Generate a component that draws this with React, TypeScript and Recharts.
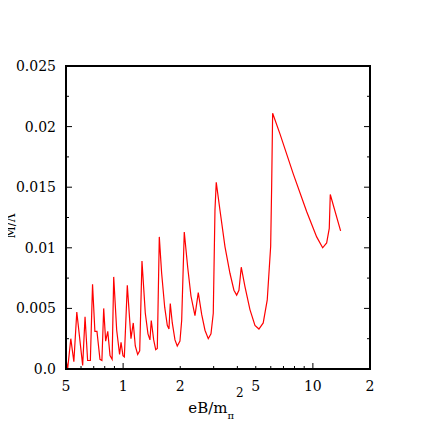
import React from 'react';
import { LineChart, Line, XAxis, YAxis } from 'recharts';

// eB / m_pi^2 (log axis) and M / Lambda^2
const eB = [
  0.5, 0.51, 0.53, 0.55, 0.57, 0.612, 0.63, 0.65, 0.672, 0.69,
  0.71, 0.728, 0.755, 0.773, 0.79, 0.809, 0.83, 0.853, 0.875, 0.892,
  0.925, 0.958, 0.975, 0.998, 1.015, 1.052, 1.1, 1.131, 1.159, 1.193,
  1.223, 1.257, 1.309, 1.352, 1.385, 1.407, 1.449, 1.485, 1.514, 1.551,
  1.596, 1.656, 1.709, 1.744, 1.772, 1.816, 1.876, 1.929, 1.993, 2.035,
  2.1, 2.189, 2.279, 2.391, 2.489, 2.594, 2.7, 2.81, 2.904, 2.986,
  3.048, 3.096, 3.239, 3.441, 3.656, 3.837, 3.966, 4.077, 4.193, 4.386,
  4.66, 4.952, 5.196, 5.474, 5.748, 5.991, 6.063, 6.137, 6.707, 7.881,
  9.27, 10.47, 11.26, 11.82, 12.2, 12.35, 14.0,
];
const mass = [
  0.0008, 0.0, 0.0025, 0.0006, 0.0047, 0.0003, 0.0043, 0.0007, 0.0007, 0.007,
  0.0031, 0.0031, 0.0008, 0.0007, 0.005, 0.0023, 0.0031, 0.0011, 0.0008, 0.0076,
  0.0032, 0.0012, 0.0022, 0.0011, 0.001, 0.0069, 0.0025, 0.0038, 0.0019, 0.0012,
  0.0015, 0.0089, 0.0046, 0.0029, 0.0024, 0.004, 0.0024, 0.0016, 0.0017, 0.0109,
  0.0079, 0.0051, 0.0036, 0.0033, 0.0054, 0.0038, 0.0024, 0.0019, 0.0023, 0.004,
  0.0113, 0.0084, 0.006, 0.0044, 0.0063, 0.0045, 0.0032, 0.0025, 0.0029, 0.0046,
  0.0131, 0.0154, 0.0131, 0.0101, 0.0079, 0.0065, 0.0061, 0.0065, 0.0084, 0.0068,
  0.0049, 0.0036, 0.0033, 0.0038, 0.0057, 0.0101, 0.015, 0.0211, 0.0194, 0.0161,
  0.013, 0.0109, 0.01, 0.0104, 0.0116, 0.0144, 0.0114,
];

// labelled ticks (the exported figure clipped 0.5 -> "5" and 20 -> "2")
const xTicks = [0.5, 1, 2, 5, 10, 20];
const xTickLabels = ['5', '1', '2', '5', '10', '2'];
const xMajor = [1, 10];
const xMinor = [0.6, 0.7, 0.8, 0.9, 2, 3, 4, 5, 6, 7, 8, 9, 20];
const xAll = [0.5, 0.6, 0.7, 0.8, 0.9, 1, 2, 3, 4, 5, 6, 7, 8, 9, 10, 20];

const yTicks = [0, 0.005, 0.01, 0.015, 0.02, 0.025];
const yTickLabels = ['0.0', '0.005', '0.01', '0.015', '0.02', '0.025'];
const yMajor = [0.005, 0.01, 0.015, 0.02];
const yMinor = [0.0025, 0.0075, 0.0125, 0.0175, 0.0225];
const yAll = [0, 0.0025, 0.005, 0.0075, 0.01, 0.0125, 0.015, 0.0175, 0.02, 0.0225, 0.025];

const data = eB.map((x, i) => ({ x, m: mass[i] }));

const font = 'DejaVu Serif';
const xDomain = [0.5, 20];
const yDomain = [0, 0.025];
const frame = { stroke: '#000', strokeWidth: 2, strokeLinecap: 'square' as const };

const xLen = (v: number) => (xMajor.includes(v) ? 6 : xMinor.includes(v) ? 3 : 0);
const yLen = (v: number) => (yMajor.includes(v) ? 6 : yMinor.includes(v) ? 3 : 0);

// gnuplot-like: ticks point into the plot, labels outside
const BottomTick = (props: any) => {
  const { x, y, payload } = props;
  const v = payload.value;
  const li = xTicks.indexOf(v);
  const len = xLen(v);
  return (
    <g>
      {len > 0 && <line x1={x} x2={x} y1={y} y2={y - len} stroke="#000" />}
      {li >= 0 && (
        <text x={x} y={y + 22} textAnchor="middle" fontFamily={font} fontSize={14} fill="#000">
          {xTickLabels[li]}
        </text>
      )}
    </g>
  );
};

const TopTick = (props: any) => {
  const { x, y, payload } = props;
  const len = xLen(payload.value);
  return len > 0 ? <line x1={x} x2={x} y1={y} y2={y + len} stroke="#000" /> : <g />;
};

const LeftTick = (props: any) => {
  const { x, y, payload } = props;
  const v = payload.value;
  const li = yTicks.indexOf(v);
  const len = yLen(v);
  return (
    <g>
      {len > 0 && <line x1={x} x2={x + len} y1={y} y2={y} stroke="#000" />}
      {li >= 0 && (
        <text x={x - 10} y={y + 5} textAnchor="end" fontFamily={font} fontSize={14} fill="#000">
          {yTickLabels[li]}
        </text>
      )}
    </g>
  );
};

const RightTick = (props: any) => {
  const { x, y, payload } = props;
  const len = yLen(payload.value);
  return len > 0 ? <line x1={x} x2={x - len} y1={y} y2={y} stroke="#000" /> : <g />;
};

const XLabel = () => (
  <text x={216} y={413} textAnchor="middle" fontFamily={font} fontSize={15} fill="#000">
    eB/m
    <tspan fontSize={10} dy={6}>π</tspan>
    <tspan fontSize={12} dx={2} dy={-22}>2</tspan>
  </text>
);

const YLabel = () => (
  <g transform="translate(15, 226) rotate(-90)">
    <text x={0} y={0} textAnchor="middle" fontFamily={font} fontSize={12} fill="#000">
      M/Λ
    </text>
    <text x={19} y={-8} textAnchor="middle" fontFamily={font} fontSize={9} fill="#000">
      2
    </text>
  </g>
);

export default function App() {
  return (
    <div style={{ margin: -8, width: 436, height: 436, background: '#fff' }}>
      <LineChart
        width={436}
        height={436}
        data={data}
        margin={{ top: 66, right: 66, bottom: 27, left: 0 }}
      >
        <XAxis
          xAxisId="main"
          dataKey="x"
          type="number"
          scale="log"
          domain={xDomain}
          allowDataOverflow
          ticks={xAll}
          interval={0}
          tick={BottomTick}
          tickSize={0}
          tickMargin={0}
          tickLine={false}
          axisLine={frame}
          height={40}
          label={XLabel}
        />
        <YAxis
          yAxisId="main"
          type="number"
          domain={yDomain}
          allowDataOverflow
          ticks={yAll}
          interval={0}
          tick={LeftTick}
          tickSize={0}
          tickMargin={0}
          tickLine={false}
          axisLine={frame}
          width={66}
          label={YLabel}
        />
        <XAxis
          xAxisId="top"
          orientation="top"
          mirror
          type="number"
          scale="log"
          domain={xDomain}
          allowDataOverflow
          ticks={xAll}
          interval={0}
          tick={TopTick}
          tickSize={0}
          tickMargin={0}
          tickLine={false}
          axisLine={frame}
        />
        <YAxis
          yAxisId="right"
          orientation="right"
          mirror
          type="number"
          domain={yDomain}
          allowDataOverflow
          ticks={yAll}
          interval={0}
          tick={RightTick}
          tickSize={0}
          tickMargin={0}
          tickLine={false}
          axisLine={frame}
        />

        <Line
          xAxisId="main"
          yAxisId="main"
          type="linear"
          dataKey="m"
          stroke="#ff0000"
          strokeWidth={1.2}
          dot={false}
          isAnimationActive={false}
        />
      </LineChart>
    </div>
  );
}
